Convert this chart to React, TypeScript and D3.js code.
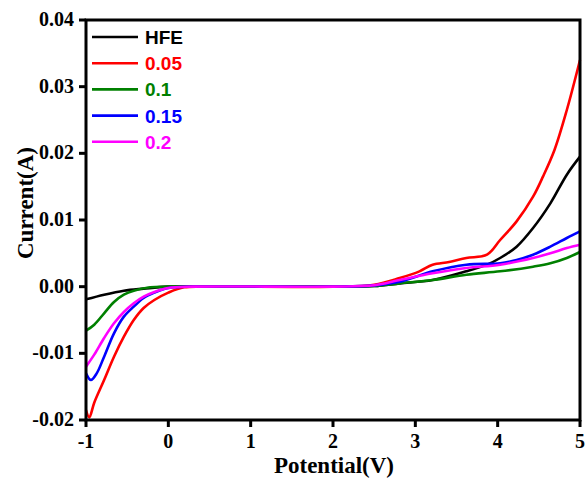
import React from "react";
import * as d3 from "d3";

const seriesNames = ["HFE", "0.05", "0.1", "0.15", "0.2"];
const seriesColors = ["#000000", "#ff0000", "#008000", "#0000ff", "#ff00ff"];
const xTicks = [-1, 0, 1, 2, 3, 4, 5];
const yTicks = [-0.02, -0.01, 0.0, 0.01, 0.02, 0.03, 0.04];

const hfe: [number, number][] = [[-1, -0.0019], [-0.78, -0.0012], [-0.54, -0.0006], [-0.3, -0.0003], [0, 0], [1, 0], [2, 0], [2.5, 0.0001], [2.81, 0.0005], [3.21, 0.001], [3.62, 0.0023], [3.87, 0.0033], [4.03, 0.0043], [4.23, 0.006], [4.43, 0.0088], [4.64, 0.0125], [4.84, 0.0168], [5, 0.0195]];
const s005: [number, number][] = [[-1, -0.0185], [-0.96, -0.0196], [-0.9, -0.0174], [-0.78, -0.014], [-0.66, -0.0105], [-0.54, -0.0075], [-0.42, -0.005], [-0.3, -0.0032], [-0.17, -0.002], [0, -0.0009], [0.19, -0.0001], [0.5, 0], [2, 0], [2.5, 0.0003], [2.81, 0.0013], [3.05, 0.0023], [3.21, 0.0033], [3.41, 0.0037], [3.62, 0.0043], [3.87, 0.0048], [4.03, 0.007], [4.23, 0.0098], [4.43, 0.0135], [4.55, 0.0165], [4.69, 0.0205], [4.84, 0.0265], [5, 0.034]];
const s01: [number, number][] = [[-1, -0.0066], [-0.9, -0.0057], [-0.78, -0.004], [-0.66, -0.0023], [-0.54, -0.0012], [-0.42, -0.0006], [-0.22, -0.0001], [0, 0], [2, 0], [2.5, 0.0001], [2.81, 0.0005], [3.21, 0.001], [3.62, 0.0018], [4.03, 0.0023], [4.43, 0.003], [4.64, 0.0035], [4.84, 0.0043], [5, 0.0052]];
const s015: [number, number][] = [[-1, -0.013], [-0.94, -0.014], [-0.87, -0.013], [-0.78, -0.0105], [-0.66, -0.007], [-0.54, -0.0045], [-0.42, -0.003], [-0.3, -0.0017], [-0.17, -0.0009], [0, -0.0002], [0.3, 0], [2, 0], [2.5, 0.0002], [2.81, 0.00075], [3.21, 0.0023], [3.62, 0.0033], [4.03, 0.0035], [4.23, 0.004], [4.43, 0.0048], [4.64, 0.006], [4.84, 0.0073], [5, 0.0083]];
const s02: [number, number][] = [[-1, -0.012], [-0.9, -0.0102], [-0.78, -0.0077], [-0.66, -0.0055], [-0.54, -0.0038], [-0.42, -0.0025], [-0.3, -0.0015], [-0.17, -0.0008], [0, -0.0002], [0.3, 0], [2, 0], [2.5, 0.0002], [2.81, 0.001], [3.21, 0.002], [3.62, 0.0028], [4.03, 0.0033], [4.43, 0.0043], [4.64, 0.005], [4.84, 0.0058], [5, 0.0063]];

const allSeries = [hfe, s005, s01, s015, s02];

export default function App() {
  const W = 586, H = 479;
  const left = 86, right = 580, top = 20, bottom = 420;
  const x = d3.scaleLinear().domain([-1, 5]).range([left, right]);
  const y = d3.scaleLinear().domain([-0.02, 0.04]).range([bottom, top]);
  const line = d3.line<[number, number]>().x(d => x(d[0])).y(d => y(d[1])).curve(d3.curveCatmullRom.alpha(0.5));
  const serif = "'Liberation Serif', 'Times New Roman', serif";
  const sans = "'Liberation Sans', Arial, sans-serif";
  return (
    <svg width={W} height={H} style={{ position: "absolute", left: 0, top: 0, background: "#fff" }}>
      <rect x={0} y={0} width={W} height={H} fill="#fff" />
      {allSeries.map((s, i) => (
        <path key={i} d={line(s) || ""} fill="none" stroke={seriesColors[i]} strokeWidth={2.6} />
      ))}
      <rect x={left} y={top} width={right - left} height={bottom - top} fill="none" stroke="#000" strokeWidth={3} />
      {xTicks.map(t => (
        <g key={t}>
          <line x1={x(t)} x2={x(t)} y1={bottom} y2={bottom + 7} stroke="#000" strokeWidth={3} />
          <text x={x(t)} y={bottom + 28} textAnchor="middle" fontFamily={serif} fontWeight="bold" fontSize={20}>{t}</text>
        </g>
      ))}
      {yTicks.map(t => (
        <g key={t}>
          <line x1={left - 7} x2={left} y1={y(t)} y2={y(t)} stroke="#000" strokeWidth={3} />
          <text x={left - 12} y={y(t) + 6} textAnchor="end" fontFamily={serif} fontWeight="bold" fontSize={20}>{t.toFixed(2)}</text>
        </g>
      ))}
      <text x={334} y={473} textAnchor="middle" fontFamily={serif} fontWeight="bold" fontSize={23}>Potential(V)</text>
      <text transform={`translate(33,203) rotate(-90)`} textAnchor="middle" fontFamily={serif} fontWeight="bold" fontSize={23}>Current(A)</text>
      {seriesNames.map((n, i) => (
        <g key={n}>
          <line x1={92} x2={138} y1={37 + i * 26.2} y2={37 + i * 26.2} stroke={seriesColors[i]} strokeWidth={2.6} />
          <text x={145} y={37 + i * 26.2 + 7} fontFamily={sans} fontWeight="bold" fontSize={19} fill={seriesColors[i]}>{n}</text>
        </g>
      ))}
    </svg>
  );
}
